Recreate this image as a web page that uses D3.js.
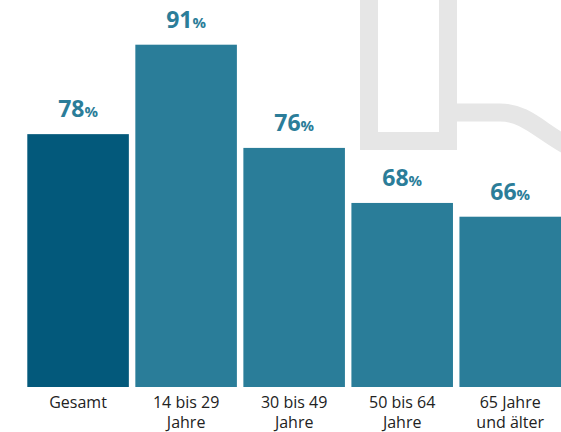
<!DOCTYPE html>
<html>
<head>
<meta charset="utf-8">
<script src="https://cdn.jsdelivr.net/npm/d3@7"></script>
<style>
  html, body { margin: 0; padding: 0; background: #fff; }
  svg { display: block; }
  .cat { font-family: "Open Sans", sans-serif; font-size: 16px; fill: #222; }
  .val { font-family: "Open Sans", sans-serif; font-weight: 700; fill: #2b7d99; }
</style>
</head>
<body>
<script>
const categories = ["Gesamt", "14 bis 29|Jahre", "30 bis 49|Jahre", "50 bis 64|Jahre", "65 Jahre|und älter"];
const values = [78, 91, 76, 68, 66];
const valueLabels = ["78", "91", "76", "68", "66"];
const colors = ["#03597b", "#2a7d99", "#2a7d99", "#2a7d99", "#2a7d99"];

const W = 561, H = 432;
const svg = d3.select("body").append("svg").attr("width", W).attr("height", H);

// decorative background shape
const deco = svg.append("g").attr("fill", "none").attr("stroke", "#e6e6e6").attr("stroke-width", 18);
deco.append("path").attr("d", "M369,-5 V141 H448 V-5");
deco.append("path").attr("d", "M448,112.5 H500 C527,112.5 540,132 575,150");

const x = d3.scaleBand().domain(categories).range([27.3, 561]).paddingInner(0.06).paddingOuter(0);
const y = d3.scaleLinear().domain([41.25, 91]).range([387, 44.7]);

const data = categories.map((c, i) => ({ c, v: values[i], l: valueLabels[i], col: colors[i] }));

svg.selectAll("rect.bar").data(data).enter().append("rect")
  .attr("class", "bar")
  .attr("x", d => x(d.c))
  .attr("width", x.bandwidth())
  .attr("y", d => y(d.v))
  .attr("height", d => y.range()[0] - y(d.v))
  .attr("fill", d => d.col);

const vl = svg.selectAll("text.val").data(data).enter().append("text")
  .attr("class", "val")
  .attr("x", d => x(d.c) + x.bandwidth() / 2)
  .attr("y", d => y(d.v) - 17)
  .attr("text-anchor", "middle");
vl.append("tspan").attr("font-size", 23).text(d => d.l);
vl.append("tspan").attr("font-size", 15).text("%");

const cl = svg.selectAll("text.cat").data(data).enter().append("text")
  .attr("class", "cat")
  .attr("text-anchor", "middle")
  .attr("x", d => x(d.c) + x.bandwidth() / 2)
  .attr("y", 408);
cl.selectAll("tspan").data(d => d.c.split("|").map(t => ({ t, cx: x(d.c) + x.bandwidth() / 2 })))
  .enter().append("tspan")
  .attr("x", d => d.cx)
  .attr("dy", (d, i) => i === 0 ? 0 : 20)
  .text(d => d.t);
</script>
</body>
</html>
